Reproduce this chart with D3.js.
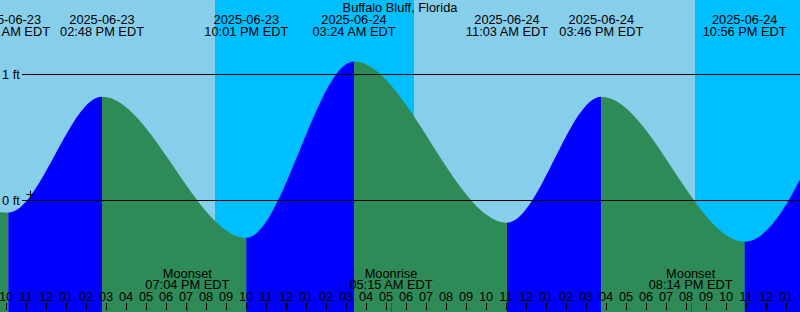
<!DOCTYPE html>
<html lang="en">
<head>
    <meta charset="UTF-8">
    <title>Buffalo Bluff tides</title>
    <script src="https://d3js.org/d3.v7.min.js"></script>
    <style>
        body{ margin: 0; }
        svg{ display: block; }
        text{
            font-family: "Liberation Sans", Arial, sans-serif;
            font-size: 12.8px;
            fill: #000;
        }
    </style>
</head>
<body>
<svg width="800" height="312"></svg>
<script>
    // all times are EDT wall clock
    const title = "Buffalo Bluff, Florida";
    const viewStart = "2025-06-23 09:42";
    const viewEnd = "2025-06-25 01:42";

    // high / low tides (first and last fall just outside the window)
    const tideTimes = ["2025-06-23 02:40", "2025-06-23 10:07", "2025-06-23 14:48", "2025-06-23 22:01",
        "2025-06-24 03:24", "2025-06-24 11:03", "2025-06-24 15:46", "2025-06-24 22:56", "2025-06-25 04:10"];
    const tideFeet = [1.10, -0.10, 0.82, -0.30, 1.10, -0.18, 0.82, -0.33, 1.10];

    const sunsets = ["2025-06-23 20:27", "2025-06-24 20:27"];
    const sunrises = ["2025-06-24 06:24", "2025-06-25 06:25"];

    const moonNames = ["Moonset", "Moonrise", "Moonset"];
    const moonTimes = ["2025-06-23 19:04", "2025-06-24 05:15", "2025-06-24 20:14"];

    const levelTicks = [0, 1];
    const markTime = "2025-06-23 11:12";
    const markFeet = 0.05;

    const width = 800;
    const height = 312;
    const dayColor = "#87ceeb", nightColor = "#00bfff";
    const risingColor = "#0000ff", fallingColor = "#2e8b57";

    let svg = d3.select("svg");
    const parse = d3.utcParse("%Y-%m-%d %H:%M");

    let xScale = d3.scaleUtc()
        .domain([parse(viewStart), parse(viewEnd)])
        .range([0, width]);
    let yScale = d3.scaleLinear()
        .domain([0, 1])
        .range([200, 74]);

    let tides = tideTimes.map((t, i) => ({date: parse(t), ft: tideFeet[i]}));

    // sky: day then night bands
    svg.append("rect")
        .attr("width", width).attr("height", height)
        .attr("fill", dayColor);
    svg.selectAll("rect.night")
        .data(sunsets)
        .enter().append("rect")
        .attr("class", "night")
        .attr("x", d => xScale(parse(d)))
        .attr("width", (d, i) => xScale(parse(sunrises[i])) - xScale(parse(d)))
        .attr("y", 0).attr("height", height)
        .attr("fill", nightColor);

    // water, coloured per rising/falling leg
    let area = d3.area()
        .x(d => xScale(d.date))
        .y0(height)
        .y1(d => yScale(d.ft))
        .curve(d3.curveMonotoneX);

    let legs = d3.pairs(tides);
    let defs = svg.append("defs");
    defs.selectAll("clipPath")
        .data(legs)
        .enter().append("clipPath")
        .attr("id", (d, i) => "leg" + i)
        .append("rect")
        .attr("x", d => xScale(d[0].date))
        .attr("width", d => xScale(d[1].date) - xScale(d[0].date))
        .attr("y", 0).attr("height", height);

    svg.append("g").selectAll("path")
        .data(legs)
        .enter().append("path")
        .attr("d", area(tides))
        .attr("clip-path", (d, i) => `url(#leg${i})`)
        .attr("fill", d => d[1].ft > d[0].ft ? risingColor : fallingColor);

    // level lines
    let levels = svg.append("g");
    levels.selectAll("line")
        .data(levelTicks)
        .enter().append("line")
        .attr("x1", 22).attr("x2", width)
        .attr("y1", d => yScale(d) + 0.5).attr("y2", d => yScale(d) + 0.5)
        .attr("stroke", "black").attr("stroke-width", 1);
    levels.selectAll("text")
        .data(levelTicks)
        .enter().append("text")
        .attr("x", 2)
        .attr("y", d => yScale(d) + 5)
        .text(d => d + " ft");

    // tide event labels
    const fmtDate = d3.utcFormat("%Y-%m-%d");
    const fmtTime = d3.utcFormat("%I:%M %p EDT");
    let ev = svg.append("g").selectAll("text")
        .data(tides)
        .enter().append("text")
        .attr("text-anchor", "middle")
        .attr("x", d => xScale(d.date));
    ev.append("tspan").attr("y", 24).attr("x", d => xScale(d.date)).text(d => fmtDate(d.date));
    ev.append("tspan").attr("y", 36).attr("x", d => xScale(d.date)).text(d => fmtTime(d.date));

    svg.append("text")
        .attr("x", width / 2)
        .attr("y", 12)
        .attr("text-anchor", "middle")
        .text(title);

    // moon events
    let moon = svg.append("g").selectAll("text")
        .data(moonTimes)
        .enter().append("text")
        .attr("text-anchor", "middle");
    moon.append("tspan").attr("x", d => xScale(parse(d))).attr("y", 278).text((d, i) => moonNames[i]);
    moon.append("tspan").attr("x", d => xScale(parse(d))).attr("y", 289).text(d => fmtTime(parse(d)));

    // hour ticks
    let hours = d3.utcHour.range(parse(viewStart), d3.utcHour.offset(parse(viewEnd), 1));
    let axis = svg.append("g");
    axis.selectAll("line")
        .data(hours)
        .enter().append("line")
        .attr("x1", d => Math.round(xScale(d)) + 0.5)
        .attr("x2", d => Math.round(xScale(d)) + 0.5)
        .attr("y1", 303).attr("y2", 310)
        .attr("stroke", "black")
        .attr("stroke-width", d => d.getUTCHours() === 0 ? 3 : 1);
    axis.selectAll("text")
        .data(hours)
        .enter().append("text")
        .attr("x", d => xScale(d))
        .attr("y", 301)
        .attr("text-anchor", "middle")
        .text(d3.utcFormat("%I"));
    axis.selectAll("line.moon")
        .data(moonTimes)
        .enter().append("line")
        .attr("class", "moon")
        .attr("x1", d => Math.round(xScale(parse(d))) + 0.5)
        .attr("x2", d => Math.round(xScale(parse(d))) + 0.5)
        .attr("y1", 303).attr("y2", height)
        .attr("stroke", "red");

    // the little + marker
    let mx = Math.round(xScale(parse(markTime))) + 0.5, my = Math.round(yScale(markFeet)) + 0.5;
    svg.append("path")
        .attr("d", `M${mx - 4},${my}H${mx + 4}M${mx},${my - 4}V${my + 4}`)
        .attr("stroke", "black").attr("fill", "none");
</script>
</body>
</html>
